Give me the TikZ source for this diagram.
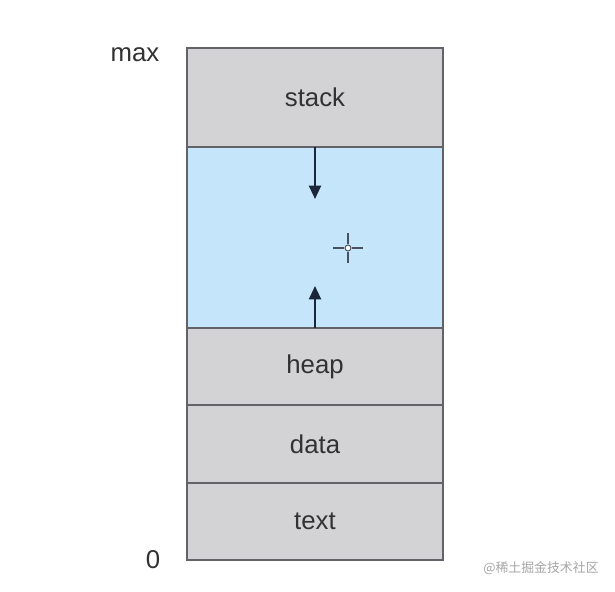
\documentclass[tikz,border=0pt]{standalone}
\usepackage{fontspec}
\setmainfont{Liberation Sans}
\newfontfamily\cjk{Noto Sans CJK SC}
\usepackage{xcolor}
\usetikzlibrary{arrows.meta,positioning,calc}

\definecolor{seggray}{RGB}{211,211,214}
\definecolor{segline}{RGB}{98,98,104}
\definecolor{freeblue}{RGB}{197,230,250}
\definecolor{growcol}{RGB}{28,38,58}
\definecolor{labtext}{RGB}{50,50,52}

\begin{document}
\begin{tikzpicture}[x=0.03cm,y=-0.03cm,font=\fontsize{22}{26}\selectfont,
  seg/.style={draw=segline,fill=seggray,line width=1.4pt,minimum width=7.68cm,
    anchor=north west,inner sep=0pt,outer sep=0pt,text=labtext},
  growarrow/.style={-{Triangle[length=4mm,width=3.6mm]},growcol,line width=1.8pt}]
\useasboundingbox (0,0) rectangle (615,592);
\fill[white] (0,0) rectangle (615,592);
% memory segments, top to bottom
\node[seg,minimum height=2.97cm] (stack) at (187,48) {stack};
\node[seg,fill=freeblue,minimum height=5.43cm] (free) at (187,147) {};
\node[seg,minimum height=2.31cm] (heap) at (187,328) {heap};
\node[seg,minimum height=2.34cm] (data) at (187,405) {data};
\node[seg,minimum height=2.31cm] (text) at (187,483) {text};
% address labels
\node[text=labtext] (max) at (135,55) {max};
\node[text=labtext] (zero) at (153,560) {0};
% growth arrows
\coordinate (sdown) at ($(free.north)+(0,52)$);
\coordinate (hup) at ($(free.south)+(0,-42)$);
\draw[growarrow] (free.north) -- (sdown);
\draw[growarrow] (free.south) -- (hup);
% cursor
\draw[growcol!80,line width=1.1pt] (333,248) -- (344,248) (352,248) -- (363,248)
  (348,233) -- (348,244) (348,252) -- (348,263);
\draw[growcol!80,fill=white,line width=0.8pt] (348,248) circle (3);
\node[text=black!35,font=\cjk\fontsize{11}{13}\selectfont] (mark) at (541,568) {@稀土掘金技术社区};
\end{tikzpicture}
\end{document}
